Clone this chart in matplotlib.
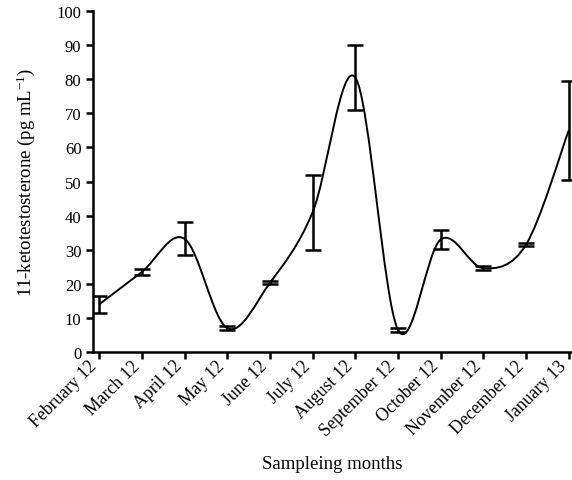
import numpy as np
import matplotlib
matplotlib.use("Agg")
import matplotlib.pyplot as plt
import matplotlib.transforms as mtransforms
from matplotlib.path import Path
from matplotlib.patches import PathPatch

plt.rcParams["font.family"] = ["Liberation Serif", "DejaVu Serif"]
plt.rcParams["mathtext.fontset"] = "custom"
plt.rcParams["mathtext.rm"] = "Liberation Serif"
plt.rcParams["mathtext.it"] = "Liberation Serif:italic"

# data
months = ["February 12", "March 12", "April 12", "May 12", "June 12", "July 12",
          "August 12", "September 12", "October 12", "November 12",
          "December 12", "January 13"]
means = [14.0, 23.5, 33.2, 7.0, 20.3, 41.0, 80.5, 6.5, 33.0, 24.6, 31.5, 65.0]
errors = [2.5, 0.8, 4.8, 0.6, 0.4, 11.0, 9.5, 0.5, 2.7, 0.6, 0.5, 14.5]


def smooth_path(x, y, t=1.0):
    # Catmull-Rom style smoothing drawn as cubic Bezier segments
    x = np.asarray(x, float)
    y = np.asarray(y, float)
    verts = [(x[0], y[0])]
    codes = [Path.MOVETO]
    n = len(x)
    for i in range(n - 1):
        p0 = i - 1 if i > 0 else i
        p3 = i + 2 if i + 2 < n else i + 1
        c1 = (x[i] + (x[i + 1] - x[p0]) * t / 6, y[i] + (y[i + 1] - y[p0]) * t / 6)
        c2 = (x[i + 1] - (x[p3] - x[i]) * t / 6, y[i + 1] - (y[p3] - y[i]) * t / 6)
        verts += [c1, c2, (x[i + 1], y[i + 1])]
        codes += [Path.CURVE4] * 3
    return Path(verts, codes)


fig = plt.figure(figsize=(5.72, 4.81), dpi=100)
ax = fig.add_axes([0.163, 0.266, 0.835, 0.709])

xs = np.arange(len(months))
ax.add_patch(PathPatch(smooth_path(xs, means), facecolor="none",
                       edgecolor="black", lw=1.4))
ax.errorbar(xs, means, yerr=errors, fmt="none", ecolor="black",
            elinewidth=1.8, capsize=6, capthick=1.8)

ax.set_xlim(-0.14, 11.05)
ax.set_ylim(0, 100)
ax.set_yticks(range(0, 101, 10))
ax.set_xticks(xs)
ax.set_xticklabels([])
# rotated month labels, ending just left of / below each tick
shift = mtransforms.ScaledTranslation(-5 / 100, -11 / 100, fig.dpi_scale_trans)
for x, m in zip(xs, months):
    ax.text(x, 0, m, transform=ax.get_xaxis_transform() + shift,
            rotation=45, ha="right", va="center", rotation_mode="anchor",
            fontsize=12.8, clip_on=False)

ax.tick_params(axis="y", labelsize=12, width=1.8, length=5)
ax.tick_params(axis="x", width=1.8, length=5)
for side in ["top", "right"]:
    ax.spines[side].set_visible(False)
for side in ["left", "bottom"]:
    ax.spines[side].set_linewidth(1.8)

ax.set_ylabel(r"11-ketotestosterone (pg mL$^{-1}$)", fontsize=13.5, labelpad=14)
ax.text(0.5, -0.328, "Sampleing months", transform=ax.transAxes,
        ha="center", va="center", fontsize=13.5)

fig.savefig("out.png", dpi=100)
